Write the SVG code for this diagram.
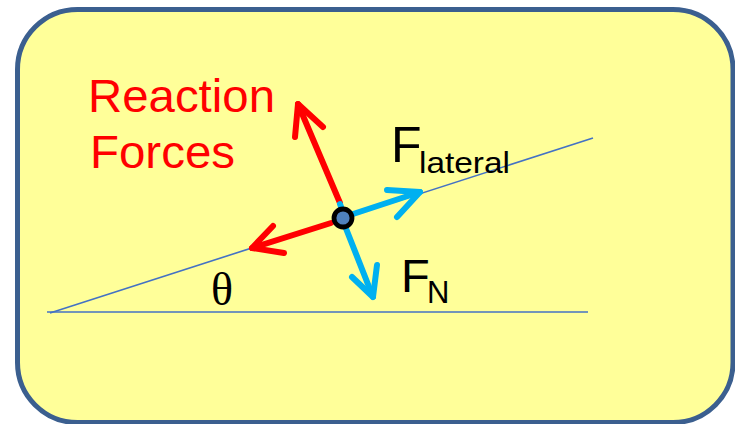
<svg xmlns="http://www.w3.org/2000/svg" width="735" height="424" viewBox="0 0 735 424">
<style>
.line{stroke:#4472C4;stroke-width:1.6;fill:none}
.red{stroke:#FF0000;stroke-width:6;fill:none;stroke-linecap:round;stroke-linejoin:round}
.blue{stroke:#00B0F0;stroke-width:6;fill:none;stroke-linecap:round;stroke-linejoin:round}
.comic{font-family:"Comic Sans MS","Liberation Sans","DejaVu Sans",sans-serif}
</style>
<g id="panel">
<rect x="17.5" y="9.5" width="715.5" height="413" rx="60" ry="60" fill="#FFFF99" stroke="#3B5F8F" stroke-width="5"/>
</g>
<g id="surfaces">
<line class="line" x1="47" y1="312" x2="588" y2="312"/>
<line class="line" x1="50" y1="313" x2="593" y2="138"/>
</g>
<g id="connectors">
<g id="reaction-up">
<line class="red" x1="340" y1="203" x2="298" y2="104"/>
<polyline class="red" points="295,137 298,104 323,127"/>
</g>
<line class="blue" x1="340" y1="204" x2="343" y2="212" stroke-linecap="butt"/>
<g id="reaction-left">
<line class="red" x1="331" y1="223" x2="252" y2="248"/>
<polyline class="red" points="273,226 252,248 284,253"/>
</g>
<g id="f-lateral-arrow">
<line class="blue" x1="350" y1="215" x2="420" y2="192"/>
<polyline class="blue" points="387,190 420,192 397,217"/>
</g>
<g id="f-n-arrow">
<line class="blue" x1="345" y1="226" x2="373" y2="297"/>
<polyline class="blue" points="352,277 373,297 377,265"/>
</g>
</g>
<g id="body">
<circle cx="343" cy="218" r="9" fill="#4F81BD" stroke="#000" stroke-width="4.8"/>
</g>
<g id="label-reaction">
<text class="comic" x="88" y="112" font-size="47" fill="#FF0000" textLength="187" lengthAdjust="spacingAndGlyphs">Reaction</text>
<text class="comic" x="90" y="168" font-size="47" fill="#FF0000" textLength="145" lengthAdjust="spacingAndGlyphs">Forces</text>
</g>
<g id="label-flateral">
<text class="comic" x="391" y="162" font-size="50" fill="#000">F</text>
<text class="comic" x="419" y="173" font-size="29" fill="#000" textLength="91" lengthAdjust="spacingAndGlyphs">lateral</text>
</g>
<g id="label-fn">
<text class="comic" x="401" y="292" font-size="47" fill="#000">F</text>
<text class="comic" x="427" y="303" font-size="31" fill="#000">N</text>
</g>
<g id="label-theta">
<text x="211" y="305" font-family="'Liberation Serif','DejaVu Serif',serif" font-size="46" fill="#000">θ</text>
</g>
</svg>
